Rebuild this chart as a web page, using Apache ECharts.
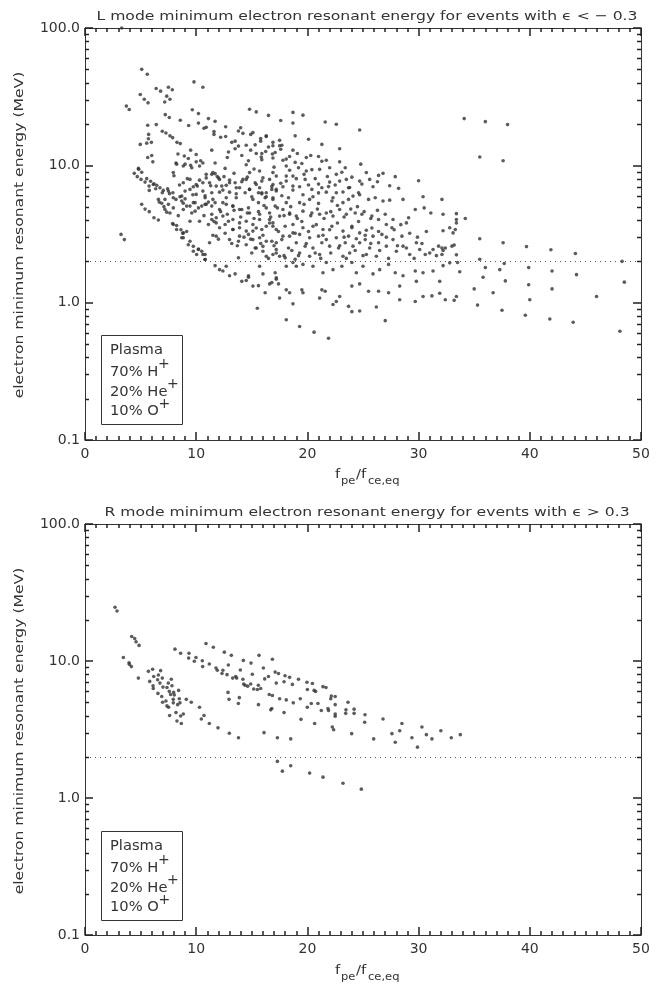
<!DOCTYPE html>
<html><head><meta charset="utf-8">
<script src="https://cdn.jsdelivr.net/npm/echarts@6/dist/echarts.min.js"></script>
<style>html,body{margin:0;padding:0;background:#fff}#c{width:669px;height:989px}</style>
</head><body><div id="c"></div>
<script>
// ---------- DATA ----------
const xTickLabels = [0, 10, 20, 30, 40, 50];
const yTickLabels = ['0.1', '1.0', '10.0', '100.0'];
const yMinorTicks = [0.2,0.3,0.4,0.5,0.6,0.7,0.8,0.9,2,3,4,5,6,7,8,9,20,30,40,50,60,70,80,90];
const thresholdEnergy = 2.0;
const titleTop = 'L mode minimum electron resonant energy for events with \u03f5 < \u2212 0.3';
const titleBottom = 'R mode minimum electron resonant energy for events with \u03f5 > 0.3';
const yName = 'electron minimum resonant energy (MeV)';
const plasmaLines = ['Plasma', '70% H', '20% He', '10% O'];
const plasmaSup = ['', '+', '+', '+'];

// L mode (top panel): f_pe/f_ce,eq
const topX = [
3.3,5.1,5.6,9.8,10.6,6.4,6.8,7.5,7.85,7.35,7.64,7.17,4.97,5.33,5.67,3.72,3.98,14.8,15.4,18.7,
9.65,10.2,16.5,11.1,11.7,8.57,7.58,7.22,9.32,10.2,5.64,6.41,10.7,10.9,12.65,14.0,13.8,11.6,11.6,12.2,
12.65,14.2,14.9,15.1,16.3,15.8,15.8,16.9,16.9,17.5,13.5,13.2,14.5,13.8,14.9,15.4,15.9,16.25,16.85,16.9,
15.85,12.8,11.4,8.27,8.57,6.95,7.28,7.64,7.88,5.72,5.7,5.55,5.97,4.97,5.64,6.0,6.1,4.8,8.36,9.5,
10.0,9.29,8.93,10.4,10.6,11.7,10.0,8.18,9.0,9.5,12.6,14.5,
4.43,4.83,5.1,4.7,5.04,5.55,5.4,5.9,5.76,6.2,6.45,5.78,6.36,6.74,7.04,7.43,6.95,7.5,7.6,7.9,
8.18,8.54,8.7,9.0,7.19,6.9,7.5,6.68,7.1,7.35,7.64,7.94,8.39,7.88,8.24,8.63,8.79,9.14,8.84,9.44,
9.74,10.2,10.04,10.5,10.8,10.8,5.1,5.4,5.78,6.2,6.6,3.24,3.54,
11.4,11.7,10.9,12.1,12.5,10.6,11.2,10.1,11.8,12.7,13.4,13.5,13.9,9.44,9.74,10.6,11.4,12.1,13.0,14.4,
14.8,15.6,15.7,16.3,16.8,16.9,17.2,15.9,15.3,14.5,14.8,15.7,16.9,8.84,9.44,9.9,10.5,10.9,11.4,11.7,
12.1,12.7,13.3,13.9,14.7,15.6,16.3,17.1,16.9,16.2,15.1,13.6,12.7,11.4,11.8,12.4,12.9,13.3,13.9,14.5,
15.1,15.7,16.3,16.9,17.2,15.9,14.5,13.3,12.1,11.1,13.9,15.1,16.0,16.8,17.2,15.4,
11.7,12.1,12.7,12.4,13.5,13.0,13.8,14.1,14.5,14.7,15.1,15.7,16.0,15.6,16.2,16.6,17.1,17.2,17.5,15.5,
19.6,18.7,17.6,21.6,22.6,24.7,18.9,20.1,21.3,22.9,18.7,17.6,17.7,20.3,21.0,21.3,21.7,22.9,24.8,18.9,
19.5,18.1,19.2,21.1,22.0,23.4,25.3,26.4,26.8,27.9,30.0,22.9,23.5,22.0,20.7,19.8,18.7,18.1,17.8,19.3,
20.4,21.3,21.7,22.6,24.1,24.6,25.5,26.1,26.8,27.4,28.6,29.7,30.4,30.5,31.1,32.1,32.2,33.4,33.4,33.1,
32.8,29.1,28.9,27.7,27.6,27.1,26.4,25.8,24.9,24.3,23.5,22.9,22.3,21.7,21.1,20.4,19.6,19.0,18.4,17.8,
18.1,19.3,20.2,21.0,22.2,23.2,23.7,18.7,19.6,20.5,21.4,22.2,23.2,24.0,24.7,25.3,25.9,26.7,27.7,28.5,
28.6,29.8,30.1,31.3,31.8,32.4,33.0,32.1,30.6,29.2,28.0,27.1,26.4,25.6,24.7,24.1,23.4,22.8,22.0,21.3,
20.5,19.8,19.0,18.3,17.7,18.4,19.3,20.2,21.0,21.7,22.6,23.7,24.4,25.2,
18.7,19.6,20.5,21.4,21.7,22.3,23.1,24.0,24.4,25.0,25.9,26.5,27.3,27.9,28.6,29.7,30.4,31.3,31.9,29.8,
28.3,27.3,26.4,25.5,24.7,24.0,22.9,22.6,22.3,21.6,21.1,21.3,19.6,19.5,18.4,18.1,17.4,16.8,18.7,18.1,
19.3,20.6,21.9,27.0,26.2,24.0,24.7,23.7,29.7,32.4,33.4,31.2,30.4,28.3,
16.3,17.5,18.1,19.9,22.6,24.7,25.9,23.7,16.9,16.6,16.9,17.2,16.3,17.5,20.2,23.2,26.2,19.3,21.1,23.8,25.3,
34.1,36.0,38.0,35.5,37.6,34.2,33.4,32.2,33.3,33.2,32.1,32.2,33.4,35.5,37.6,39.7,41.9,44.1,48.3,32.2,
32.8,33.5,33.7,35.5,36.0,37.3,37.7,39.9,42.0,44.2,35.8,48.5,37.8,35.0,36.7,39.9,42.0,31.9,33.2,35.3,
40.0,37.5,46.0,39.6,41.8,43.9,48.1,
8.24,8.84,9.6,10.3,10.9,11.5,12.0,12.3,13.0,13.6,14.2,14.8,15.4,15.9,16.6,17.2,18.1,18.7,10.0,10.8,
11.5,12.4,13.3,14.1,14.8,15.7,16.6,17.5,18.4,11.4,11.8,12.6,13.3,13.9,14.7,15.1,15.7,16.3,17.2,17.8,
18.7,13.0,13.8,14.5,15.3,16.0,16.9,18.0,18.9,11.8,11.2,10.8,9.74,9.14,8.84,9.9,10.3,9.44,7.94,8.24,
8.84,8.7,9.29,9.74,10.2,10.6,10.8,14.7,17.2,18.1,19.0,6.14,6.6,7.19,7.94,8.7,9.0,7.94,9.44,10.0,8.84,
15.9,16.3,16.8,17.2,17.7,18.3,18.7,19.6,20.1,20.5,21.0,21.9,22.3,23.2,23.8,24.7,
15.6,16.1,16.7,17.3,17.9,18.5,19.1,19.7,20.3,20.9,21.5,22.1,22.7,23.3,23.9,24.5,25.1,25.7,26.3,27.0,
15.4,16.0,16.6,17.4,18.0,18.9,19.5,20.1,20.8,21.4,22.0,22.7,23.3,24.0,24.6,25.2,25.8,26.4,27.1,27.8,28.4,29.2,29.9,30.7,
15.0,15.8,16.5,17.0,17.9,18.6,19.2,19.9,20.7,21.2,22.1,22.9,23.5,24.3,25.0,25.7,26.5,27.3,28.1,28.9,29.6,30.3,31.0,31.6,
15.2,16.0,17.0,17.6,18.4,19.0,19.7,20.4,21.0,21.8,22.5,23.1,24.0,24.9,25.6,26.3,27.4,28.2,
8.0,8.5,9.2,9.7,10.3,10.8,11.3,11.9,12.4,13.0,13.6,14.1,14.6,15.0,
9.6,10.2,10.7,11.1,11.6,12.2,12.8,13.4,14.0,14.6,15.2,
11.5,12.0,12.6,13.2,13.7,14.3,14.9,
12.9,13.5,14.1,14.7,15.3,15.9,16.5,17.1,17.8,18.4,19.1,19.9
];
const topY = [
100,50,46,40.5,37,36.3,34.7,37,35.5,31.9,30.3,28.9,32.8,30.3,28.5,27,25.5,25.6,24.5,24.3,
25.4,23.8,23.1,21.9,20.9,21.3,22.3,23.4,19.5,20.3,19.6,19.8,18.6,18.9,19.1,18.8,17.8,17.6,16.8,16.0,
16.2,17.1,16.8,17.3,16.2,15.7,15.0,14.7,13.9,15.2,15.0,14.7,14.0,13.8,12.9,12.2,12.2,12.6,12.1,11.3,
11.5,11.4,12.9,14.7,14.4,17.7,17.2,16.4,15.9,16.8,15.6,14.5,14.7,14.2,11.4,11.8,10.6,9.5,12.1,12.9,
12.0,11.2,11.7,10.8,10.4,10.4,10.6,10.4,10.2,10.0,9.5,10.1,
8.74,9.35,8.9,8.27,7.9,8.0,7.55,7.65,7.06,7.35,7.15,6.57,6.76,6.87,6.57,6.76,6.32,6.49,6.22,6.32,
5.65,5.9,5.5,5.7,5.65,5.3,5.2,5.4,5.0,4.56,4.5,4.9,4.3,3.77,3.65,3.4,3.2,3.3,2.97,2.8,
2.57,2.46,2.24,2.37,2.24,2.06,5.2,4.8,4.6,4.15,4.0,3.14,2.88,
8.6,8.7,8.1,7.9,8.27,7.47,7.47,7.06,7.06,7.15,8.74,7.47,6.87,6.68,6.99,6.49,6.32,6.38,6.38,6.32,
6.68,6.32,6.87,6.32,6.68,7.26,8.35,7.68,7.47,7.9,8.85,9.1,8.85,5.3,5.05,5.35,5.05,5.2,5.05,5.35,
4.77,5.2,5.05,4.77,4.9,5.35,4.9,5.05,5.8,5.8,5.65,5.8,5.8,4.4,4.15,4.27,3.92,4.03,3.81,3.92,
3.71,4.03,3.6,3.81,3.41,3.41,3.32,3.41,3.51,3.71,3.05,2.88,2.57,2.8,2.3,2.5,
1.86,1.74,1.84,1.7,1.62,1.57,2.12,1.43,1.45,1.53,1.32,1.84,1.62,1.33,1.18,1.37,1.65,1.48,1.08,0.91,
23.2,20.3,21.2,20.7,19.9,18.1,16.4,15.5,14.2,13.2,12.9,13.1,14.0,11.8,11.6,10.7,10.9,10.6,10.2,10.5,
10.3,11.1,9.6,9.35,9.6,9.6,8.85,8.45,8.74,8.27,7.73,7.68,7.9,7.55,8.0,7.9,8.35,7.68,6.99,6.99,
6.68,6.87,6.38,6.32,5.97,6.32,5.65,5.8,5.5,5.58,5.65,4.77,5.9,4.9,4.5,5.65,4.4,4.03,4.45,3.22,
3.51,4.15,3.81,4.03,3.51,3.71,4.03,4.27,4.4,4.5,4.4,4.77,4.27,4.5,4.4,4.5,4.64,4.27,4.4,4.77,
5.35,5.35,5.65,5.28,5.5,5.35,5.65,3.71,3.51,3.6,3.41,3.6,3.32,3.51,3.22,3.37,3.05,3.14,2.88,3.05,
2.58,2.73,2.44,2.44,2.58,2.5,2.58,2.24,2.24,2.24,2.37,2.58,2.73,2.5,2.73,2.58,2.73,2.5,2.58,2.73,
2.5,2.58,2.73,2.5,2.88,3.05,3.14,2.97,3.05,2.88,2.97,3.05,2.92,2.88,
1.96,1.9,1.84,1.65,1.96,1.74,1.84,1.96,1.65,1.84,1.62,1.74,1.9,1.65,1.57,1.7,1.65,1.7,1.43,1.43,
1.32,1.18,1.21,1.21,1.37,1.32,1.11,1.02,0.97,1.21,1.08,1.24,1.18,1.24,1.18,1.24,1.37,1.4,0.98,0.75,
0.67,0.61,0.55,0.74,0.93,0.86,0.87,0.94,1.02,1.05,1.11,1.12,1.11,1.05,
16.4,13.9,9.9,9.1,8.6,7.68,6.99,6.87,5.65,4.5,3.6,2.44,2.18,2.18,2.18,2.18,2.18,2.3,2.24,2.3,2.24,
21.9,20.8,19.8,11.5,10.8,4.1,3.81,3.34,3.41,2.63,2.5,2.4,2.23,2.92,2.73,2.56,2.43,2.28,2.0,1.86,
1.95,1.96,1.68,2.07,1.8,1.74,1.93,1.8,1.7,1.6,1.53,1.41,1.44,1.26,1.18,1.35,1.26,1.17,1.04,0.96,
1.05,0.88,1.11,0.81,0.76,0.72,0.62,
10.2,9.9,9.6,9.9,8.6,8.85,8.1,7.06,7.47,6.87,7.9,6.68,7.26,6.32,7.9,6.68,8.35,7.06,6.14,5.8,
5.65,5.35,5.05,4.77,4.5,4.4,4.03,4.27,4.5,4.03,3.81,3.71,3.41,3.51,3.14,3.32,2.97,2.8,2.73,3.05,
3.22,2.88,2.8,2.64,2.5,2.37,2.24,2.12,2.07,3.05,2.73,5.2,5.35,5.05,4.77,4.64,3.92,3.92,3.71,3.41,
3.22,2.97,2.64,2.37,2.44,2.24,2.06,1.57,1.52,1.84,1.84,7.26,5.65,4.77,5.8,5.97,6.49,8.85,7.9,7.26,7.47,
6.2,5.9,7.0,6.5,6.0,5.8,6.6,6.1,7.2,5.9,6.3,7.0,5.8,6.4,6.9,6.1,
4.6,5.1,4.2,4.9,4.3,5.0,4.1,5.2,4.3,4.8,4.1,4.6,5.1,4.2,4.8,5.0,4.6,4.1,4.7,4.4,
3.5,3.1,3.8,3.3,3.6,3.2,3.9,3.3,3.7,3.1,3.4,3.8,3.0,3.6,3.9,3.1,3.5,3.3,3.0,3.4,3.7,3.2,3.0,3.3,
2.3,2.7,2.1,2.6,2.2,2.4,2.2,2.7,2.3,2.1,2.3,2.6,2.1,2.4,2.2,2.7,2.4,2.1,2.6,2.5,2.1,2.7,2.3,2.2,
9.4,8.1,9.7,7.4,9.2,8.0,8.6,9.3,7.3,8.3,7.2,8.9,8.2,7.3,7.9,7.6,7.1,6.8,
8.4,7.2,8.0,6.1,7.8,6.0,7.1,8.3,6.6,7.8,6.2,7.6,8.2,5.9,
4.5,4.9,4.3,5.4,3.9,4.6,4.4,4.7,4.2,4.5,4.1,
3.1,2.9,3.2,2.7,2.6,3.0,2.9,
12.5,13.2,11.8,10.8,14.1,11.0,13.6,12.4,10.9,11.6,12.2,11.4
];

// R mode (bottom panel)
const botX = [
2.70,2.88,4.2,4.47,4.59,4.86,3.45,3.96,3.99,4.17,4.8,5.7,6.08,5.82,6.18,6.6,6.8,6.53,6.95,6.74,
6.12,6.14,7.01,7.37,7.49,7.76,7.82,6.56,6.9,7.58,7.7,7.97,8.03,8.42,6.98,7.28,7.37,7.52,7.94,7.94,
8.33,8.48,8.54,9.11,9.56,7.61,8.18,8.6,8.84,8.27,8.66,10.3,10.7,10.46,11.18,11.96,12.98,13.8,16.1,17.3,
8.09,8.6,9.35,9.32,9.98,9.83,10.55,10.88,11.54,10.58,11.18,11.78,11.9,12.32,12.4,12.53,13.16,12.89,12.77,13.28,
13.55,13.64,13.97,14.24,14.93,14.2,14.27,14.39,14.63,14.9,15.05,15.17,15.5,15.59,15.8,15.65,16.04,16.16,16.5,16.85,
17.1,17.4,17.2,16.57,16.85,16.8,16.7,15.6,17.99,17.9,17.9,17.5,12.86,12.95,13.79,13.88,
18.4,18.65,19.2,19.96,20.45,20.0,20.6,20.74,21.4,21.67,18.1,18.73,19.36,19.99,20.35,20.95,21.25,21.85,21.9,22.1,
22.15,22.5,22.5,22.5,22.5,23.65,23.47,23.44,24.2,24.2,25.18,25.15,26.8,28.5,28.3,27.6,30.3,30.7,29.4,32.0,
33.75,32.94,31.2,29.9,27.9,25.96,23.98,22.36,22.24,20.65,19.42,18.5,17.3,17.75,18.5,20.2,21.4,23.2,24.85
];
const botY = [
24.7,23.2,15.1,14.6,13.8,13.0,10.6,9.7,9.45,9.1,7.5,8.4,8.7,7.1,7.7,7.9,8.5,7.3,7.5,6.9,
6.6,6.3,6.45,6.4,6.9,7.35,6.6,5.8,5.5,6.0,5.7,5.9,5.65,6.1,5.0,5.1,4.7,4.6,5.25,4.95,
4.8,5.3,4.95,5.25,5.0,4.0,4.2,3.97,4.1,3.65,3.5,4.6,4.0,3.77,3.5,3.25,2.97,2.75,3.0,2.75,
12.2,11.4,11.4,10.5,10.6,9.95,10.05,13.4,12.6,9.1,9.5,8.9,8.55,8.1,8.55,11.6,11.0,9.35,7.95,7.5,
7.7,7.5,8.6,10.1,9.65,7.35,6.8,6.65,6.55,6.8,8.0,6.25,6.2,6.65,6.3,11.0,8.9,7.4,7.7,10.3,
8.3,8.1,6.9,5.7,5.6,4.5,4.4,4.8,7.8,7.05,4.2,5.3,5.9,5.25,4.9,5.4,
7.6,6.75,7.35,7.0,6.85,6.2,6.1,6.0,6.5,6.4,5.2,4.95,5.3,4.6,4.9,4.9,4.35,4.5,4.35,5.3,
5.55,5.5,4.8,4.1,3.95,5.0,4.4,4.15,4.45,4.15,4.05,3.57,3.77,3.5,3.1,2.95,3.3,2.9,2.75,3.1,
2.9,2.75,2.7,2.35,2.55,2.7,2.95,3.15,3.3,3.5,3.75,2.7,1.85,1.57,1.72,1.52,1.42,1.28,1.16
];

// ---------- CHART ----------
const FONT = 'DejaVu Sans';
const INK = '#333';
const TICK = '#222';
const TICK_W = 1.5;
const zip = (xs, ys) => xs.map((x, i) => [x, ys[i]]);
const measure = (() => { const c = document.createElement('canvas').getContext('2d');
  return (s, size) => { c.font = size + 'px "' + FONT + '"'; return c.measureText(s).width; }; })();

function xAxisPair(grid) {
  const base = {
    type: 'value', gridIndex: grid, min: xTickLabels[0], max: xTickLabels[xTickLabels.length - 1], interval: 10,
    axisLine: { show: true, onZero: false, lineStyle: { color: INK, width: 1 } },
    axisTick: { show: true, inside: true, length: 8, lineStyle: { color: TICK, width: TICK_W } },
    minorTick: { show: true, splitNumber: 10, length: 4, lineStyle: { color: TICK, width: TICK_W } },
    splitLine: { show: false }
  };
  return [
    Object.assign({}, base, {
      position: 'bottom',
      axisLabel: { color: INK, fontSize: 14, fontFamily: FONT, margin: 7 }
    }),
    Object.assign({}, base, { position: 'top', axisLabel: { show: false } })
  ];
}
function yAxisPair(grid) {
  const base = {
    type: 'log', logBase: 10, gridIndex: grid, min: 0.1, max: 100,
    axisLine: { show: true, onZero: false, lineStyle: { color: INK, width: 1 } },
    axisTick: { show: true, inside: true, length: 8, lineStyle: { color: TICK, width: TICK_W } },
    splitLine: { show: false }
  };
  return [
    Object.assign({}, base, {
      position: 'left',
      axisLabel: { color: INK, fontSize: 14, fontFamily: FONT, margin: 5,
        formatter: v => { const s = v.toFixed(1); return yTickLabels.indexOf(s) >= 0 ? s : ''; } }
    }),
    Object.assign({}, base, { position: 'right', axisLabel: { show: false } })
  ];
}
function minorSeries(xi, yi) {
  return {
    type: 'custom', xAxisIndex: xi, yAxisIndex: yi, silent: true, clip: false, z: 5,
    data: yMinorTicks.map(v => [xTickLabels[0], v]),
    renderItem: (params, api) => {
      const v = api.value(1);
      const l = api.coord([xTickLabels[0], v]);
      const r = api.coord([xTickLabels[xTickLabels.length - 1], v]);
      const y = Math.round(l[1]) + 0.5;
      const xl = Math.round(l[0]), xr = Math.round(r[0]);
      return { type: 'group', children: [
        { type: 'line', shape: { x1: xl, y1: y, x2: xl + 4, y2: y }, style: { stroke: TICK, lineWidth: TICK_W } },
        { type: 'line', shape: { x1: xr - 4, y1: y, x2: xr, y2: y }, style: { stroke: TICK, lineWidth: TICK_W } }
      ] };
    }
  };
}
function scatter(xi, yi, data) {
  return {
    type: 'scatter', xAxisIndex: xi, yAxisIndex: yi, data: data,
    symbol: 'circle', symbolSize: 3.6, itemStyle: { color: '#333' }, silent: true,
    markLine: { silent: true, symbol: 'none', label: { show: false }, animation: false,
      lineStyle: { type: [1, 4], color: '#555', width: 1 }, data: [{ yAxis: thresholdEnergy }] }
  };
}
function txt(x, y, text, size, sx, align) {
  return { type: 'text', x: x, y: y, scaleX: sx,
    style: { text: text, fontSize: size, fontFamily: FONT, fill: INK, align: align || 'left', verticalAlign: 'middle' } };
}
function panelDecor(dy, title) {
  const kids = [];
  kids.push(txt(367, 16.5 + dy, title, 13, 1.2, 'center'));
  const yn = txt(20, 235 + dy, yName, 13, 1.2, 'center');
  yn.rotation = Math.PI / 2;
  kids.push(yn);
  // x axis name f_pe/f_ce,eq
  kids.push(txt(335, 475 + dy, 'f', 13, 1.15));
  kids.push(txt(341, 481 + dy, 'pe', 10, 1.15));
  kids.push(txt(356, 475 + dy, '/f', 13, 1.15));
  kids.push(txt(368, 481 + dy, 'ce,eq', 10, 1.15));
  // legend box
  kids.push({ type: 'rect', shape: { x: 101.5, y: 335.5 + dy, width: 81, height: 89 },
    style: { fill: 'none', stroke: INK, lineWidth: 1 } });
  const mids = [350, 372, 392, 411.5];
  plasmaLines.forEach((s, i) => {
    kids.push(txt(110, mids[i] + dy, s, 14, 1.05));
    if (plasmaSup[i]) kids.push(txt(110 + measure(s, 14) * 1.05 + 5.5, mids[i] - 7.5 + dy, plasmaSup[i], 14, 1, 'center'));
  });
  return { type: 'group', children: kids };
}

const xa0 = xAxisPair(0), xa1 = xAxisPair(1), ya0 = yAxisPair(0), ya1 = yAxisPair(1);
const option = {
  animation: false,
  backgroundColor: '#fff',
  grid: [
    { left: 85, top: 28, width: 556, height: 412 },
    { left: 85, top: 524, width: 556, height: 411 }
  ],
  xAxis: [xa0[0], xa0[1], xa1[0], xa1[1]],
  yAxis: [ya0[0], ya0[1], ya1[0], ya1[1]],
  series: [
    scatter(0, 0, zip(topX, topY)),
    scatter(2, 2, zip(botX, botY)),
    minorSeries(0, 0),
    minorSeries(2, 2)
  ],
  graphic: [ panelDecor(0, titleTop), panelDecor(496, titleBottom) ]
};
const chart = echarts.init(document.getElementById('c'), null, { renderer: 'canvas' });
chart.setOption(option);
</script></body></html>
